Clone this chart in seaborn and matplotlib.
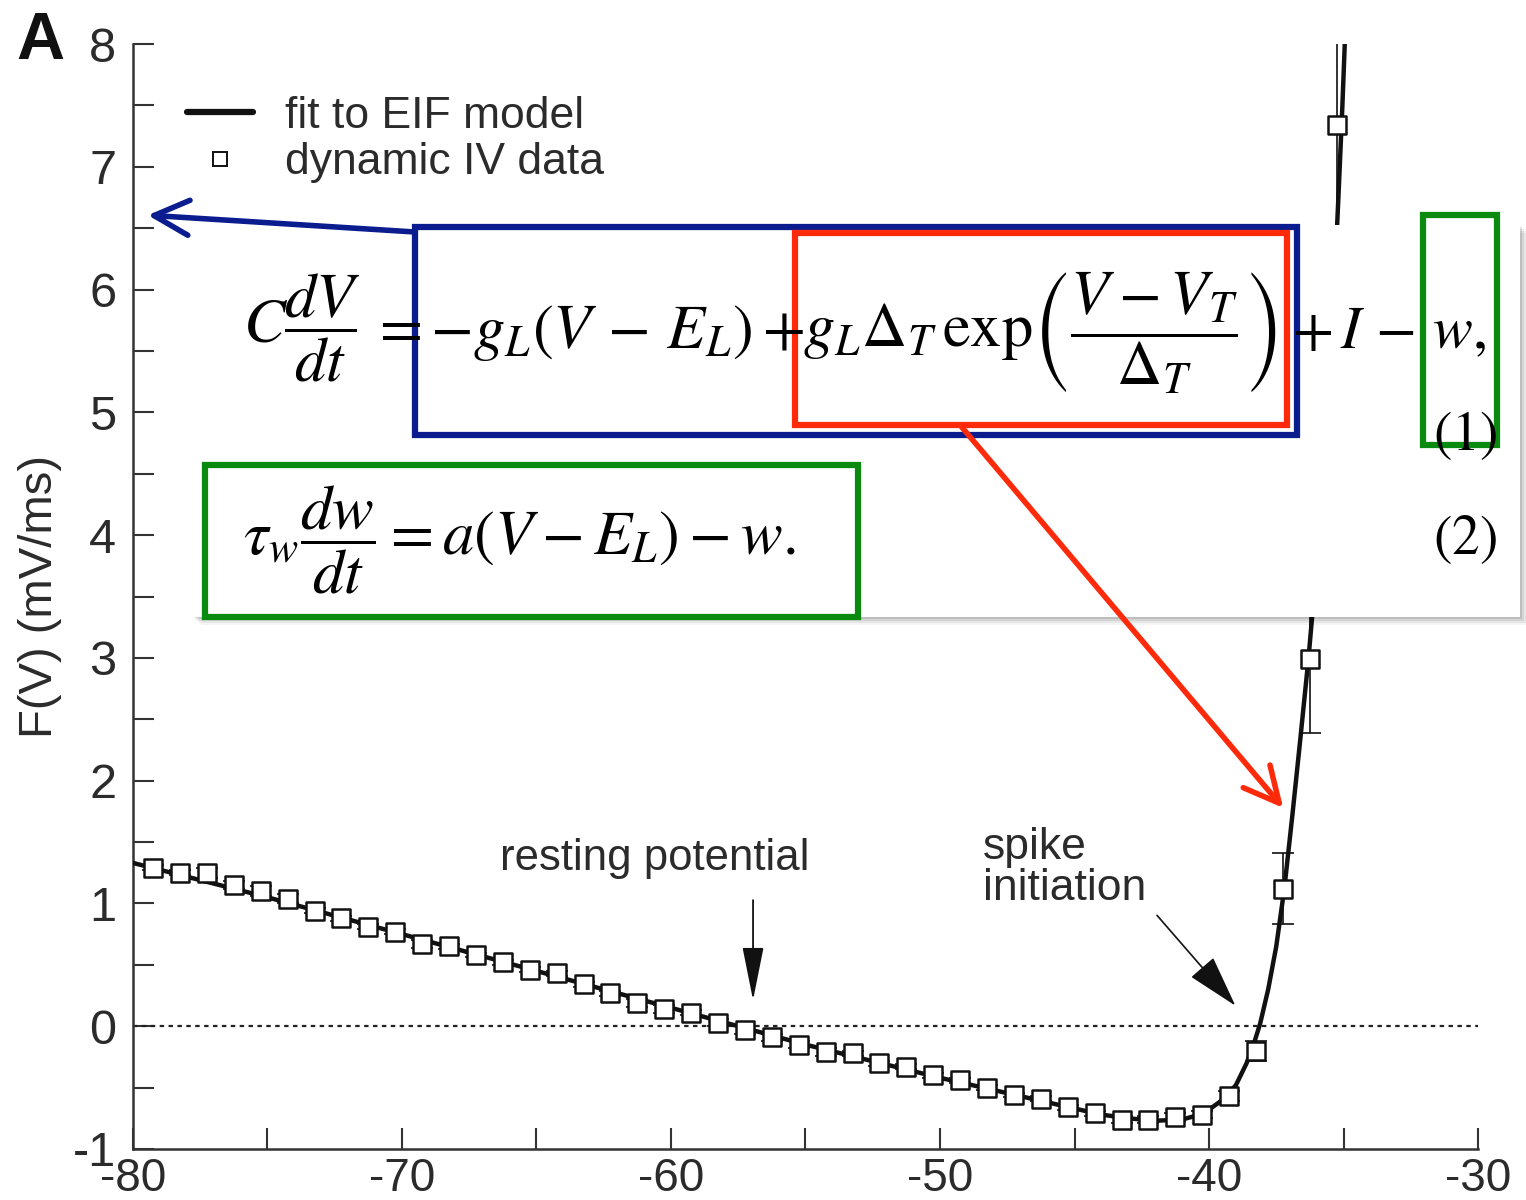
import numpy as np
import pandas as pd
import seaborn as sns
import matplotlib.pyplot as plt
from matplotlib.patches import Rectangle, FancyArrowPatch
from matplotlib.lines import Line2D

# dynamic IV data (membrane potential in mV, F(V) in mV/ms, error)
data_v = [-79.25, -78.25, -77.25, -76.25, -75.25, -74.25, -73.25, -72.25, -71.25, -70.25,
          -69.25, -68.25, -67.25, -66.25, -65.25, -64.25, -63.25, -62.25, -61.25, -60.25,
          -59.25, -58.25, -57.25, -56.25, -55.25, -54.25, -53.25, -52.25, -51.25, -50.25,
          -49.25, -48.25, -47.25, -46.25, -45.25, -44.25, -43.25, -42.25, -41.25, -40.25,
          -39.25, -38.25, -37.25, -36.25, -35.25]
data_f = [1.29, 1.25, 1.25, 1.15, 1.10, 1.04, 0.94, 0.88, 0.81, 0.77,
          0.67, 0.65, 0.58, 0.52, 0.46, 0.43, 0.34, 0.27, 0.19, 0.14,
          0.11, 0.03, -0.03, -0.09, -0.15, -0.21, -0.22, -0.30, -0.33, -0.40,
          -0.44, -0.50, -0.56, -0.59, -0.66, -0.71, -0.76, -0.76, -0.74, -0.72,
          -0.57, -0.20, 1.12, 2.99, 7.34]
data_err = [0.02, 0.02, 0.04, 0.03, 0.04, 0.04, 0.02, 0.02, 0.02, 0.02,
            0.03, 0.02, 0.02, 0.02, 0.02, 0.02, 0.02, 0.02, 0.03, 0.03,
            0.02, 0.03, 0.03, 0.03, 0.03, 0.03, 0.02, 0.02, 0.02, 0.02,
            0.02, 0.02, 0.02, 0.02, 0.02, 0.02, 0.03, 0.03, 0.03, 0.03,
            0.04, 0.08, 0.29, 0.60, 1.00]

# fit to EIF model
fit_v = [-80, -75, -70, -65, -60, -55, -50, -47, -45, -44, -43, -42, -41, -40.5, -40,
         -39.5, -39, -38.6, -38.3, -38.1, -37.8, -37.5, -37.2, -36.9, -36.6, -36.3,
         -36.0, -35.7, -35.4, -35.2, -35.05, -34.9]
fit_f = [1.33, 1.05, 0.75, 0.45, 0.15, -0.15, -0.42, -0.57, -0.67, -0.72, -0.75, -0.77,
         -0.76, -0.73, -0.68, -0.60, -0.48, -0.30, -0.12, 0.02, 0.30, 0.65, 1.12, 1.72,
         2.35, 3.0, 3.75, 4.65, 5.75, 6.7, 7.45, 8.3]

x_ticks = [-80, -70, -60, -50, -40, -30]
y_ticks = [-1, 0, 1, 2, 3, 4, 5, 6, 7, 8]

W, H = 1526, 1200

sns.set_style("ticks")
plt.rcParams['font.family'] = ['Liberation Sans', 'DejaVu Sans']
plt.rcParams['mathtext.fontset'] = 'stix'
plt.rcParams['axes.unicode_minus'] = False

txt = '#2b2b2b'
fig = plt.figure(figsize=(W / 100, H / 100), dpi=100)
ax = fig.add_axes([133 / W, 1 - 1149 / H, (1478 - 133) / W, (1149 - 44) / H])

fit = pd.DataFrame({'V': fit_v, 'F': fit_f})
dat = pd.DataFrame({'V': data_v, 'F': data_f, 'err': data_err})

ax.axhline(0, color='#222222', lw=1.6, ls=(0, (2, 2)), zorder=1)
sns.lineplot(data=fit, x='V', y='F', ax=ax, color='#111111', lw=3.2, sort=True, zorder=3)
ax.errorbar(dat['V'], dat['F'], yerr=dat['err'], fmt='none', ecolor='#111111',
            elinewidth=1.2, capsize=8, capthick=1.2, zorder=2)
sns.scatterplot(data=dat, x='V', y='F', ax=ax, marker='s', s=165, facecolor='white',
                edgecolor='#111111', linewidth=1.8, zorder=4)

ax.set_xlim(-80, -30)
ax.set_ylim(-1, 8)
ax.set_xticks(x_ticks)
ax.set_xticks([-75, -65, -55, -45, -35], minor=True)
ax.set_yticks(y_ticks)
ax.set_yticks([-0.5, 0.5, 1.5, 2.5, 3.5, 4.5, 5.5, 6.5, 7.5], minor=True)
ax.tick_params(which='both', direction='in', length=15, width=1.5, color='#333333',
               labelsize=35, labelcolor=txt)
ax.tick_params(axis='y', pad=12)
ax.tick_params(axis='x', pad=6, labelsize=33)
ax.set_xlabel('')
ax.set_ylabel('F(V) (mV/ms)', fontsize=34, color=txt)
ax.yaxis.set_label_coords(-0.053, 0.5)
sns.despine(ax=ax)
for s in ['left', 'bottom']:
    ax.spines[s].set_linewidth(1.8)
    ax.spines[s].set_color('#333333')

handles = [Line2D([], [], color='#111111', lw=4.5),
           Line2D([], [], ls='none', marker='s', markersize=10, mfc='white',
                  mec='#111111', mew=1.4)]
ax.legend(handles, ['fit to EIF model', 'dynamic IV data'], loc='upper left',
          bbox_to_anchor=(0.04, 0.953), frameon=False, fontsize=32, borderpad=0,
          borderaxespad=0, handlelength=1.5, handletextpad=0.72, labelspacing=0.12,
          labelcolor=txt)

ax.text(-60.6, 1.37, 'resting potential', fontsize=31.5, color=txt, ha='center', va='center')
ax.annotate('', xy=(-56.95, 0.19), xytext=(-56.95, 1.05),
            arrowprops=dict(arrowstyle='-|>,head_length=1.4,head_width=0.28',
                            color='#111111', lw=1.3, mutation_scale=24))
ax.text(-48.4, 1.29, 'spike\ninitiation', fontsize=32, color=txt, ha='left', va='center',
        linespacing=1.02)
ax.annotate('', xy=(-38.95, 0.15), xytext=(-42.0, 0.92),
            arrowprops=dict(arrowstyle='-|>,head_length=1.4,head_width=0.4',
                            color='#111111', lw=1.2, mutation_scale=24))

fig.text(40 / W, 1 - 42 / H, 'A', fontsize=48, fontweight='bold', color='#111111',
         ha='center', va='center')


def fx(x, y):
    return x / W, 1 - y / H


def frame(x0, y0, x1, y1, color, lw=4.5, z=10):
    r = Rectangle(fx(x0, y1), (x1 - x0) / W, (y1 - y0) / H, transform=fig.transFigure,
                  fill=False, ec=color, lw=lw, zorder=z)
    fig.add_artist(r)


# pasted equation panel with a soft shadow
for i, a in enumerate([0.10, 0.08, 0.06, 0.04]):
    d = 2 + 2 * i
    fig.add_artist(Rectangle(fx(193 + d, 617 + d), (1520 - 193) / W, (617 - 225) / H,
                             transform=fig.transFigure, fc='black', ec='none',
                             alpha=a, zorder=5))
fig.add_artist(Rectangle(fx(193, 617), (1520 - 193) / W, (617 - 225) / H,
                         transform=fig.transFigure, fc='white', ec='none', zorder=6))

eq = dict(fontsize=45, color='black', va='center', zorder=12)
fig.text(*fx(243, 328), r'$C\dfrac{dV}{dt}$', ha='left', **eq)
fig.text(*fx(370, 333), r'$=-g_L(V\,-\,E_L)+$', ha='left', **eq)
fig.text(*fx(803, 333), r'$g_L\Delta_T\,\mathrm{exp}\left(\dfrac{V-V_T}{\Delta_T}\right)$',
         ha='left', **eq)
fig.text(*fx(1292, 333), r'$+\,I\,-\,w,$', ha='left', **dict(eq, fontsize=43))
fig.text(*fx(1465, 435), r'$(1)$', ha='center', **dict(eq, fontsize=40))
fig.text(*fx(243, 540), r'$\tau_w\dfrac{dw}{dt}=a(V-E_L)-w.$', ha='left', **eq)
fig.text(*fx(1465, 540), r'$(2)$', ha='center', **dict(eq, fontsize=40))

blue = '#0a1c8e'
red = '#ff2a0a'
green = '#0b8a10'
frame(415, 227, 1297, 435, blue)
frame(795, 233, 1287, 425, red)
frame(1423, 215, 1497, 445, green)
frame(205, 465, 858, 617, green)

fig.add_artist(FancyArrowPatch(fx(415, 232), fx(145, 215), transform=fig.transFigure,
                               arrowstyle='->,head_length=0.9,head_width=0.45',
                               mutation_scale=28, color=blue, lw=4, zorder=11))
fig.add_artist(FancyArrowPatch(fx(960, 425), fx(1285, 810), transform=fig.transFigure,
                               arrowstyle='->,head_length=0.9,head_width=0.45',
                               mutation_scale=28, color=red, lw=4, zorder=11))

fig.savefig('out.png', dpi=100)
